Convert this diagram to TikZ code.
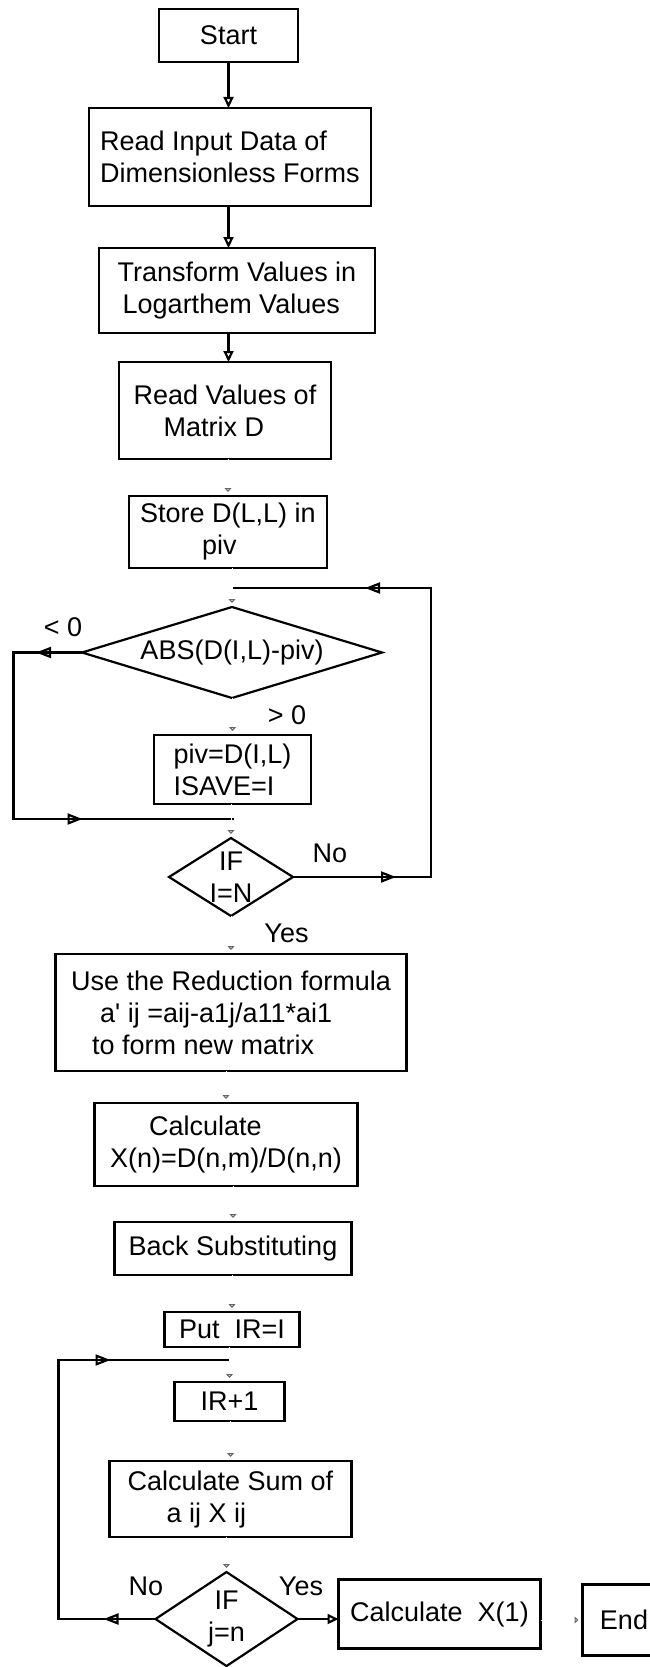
\documentclass[tikz,border=0pt]{standalone}
\usepackage{fontspec}
\setmainfont{Liberation Sans}
\usetikzlibrary{positioning, arrows.meta, shapes.geometric, calc, decorations.markings}
\tikzset{
box/.style={
    draw,
    line width=2.2pt,
    inner sep=4pt,
    outer sep=0pt,
    font=\fontsize{27pt}{32pt}\selectfont
},
dec/.style={
    draw,
    diamond,
    line width=2.2pt,
    inner sep=-14pt,
    outer sep=0pt,
    align=center,
    font=\fontsize{27pt}{32pt}\selectfont
},
lbl/.style={
    font=\fontsize{27pt}{32pt}\selectfont
},
flow/.style={
    line width=2.2pt,
    -{Triangle[open, length=11pt, width=10pt]}
},
faint/.style={
    draw=white,
    line width=1pt,
    shorten >=4pt,
    -{Triangle[open, length=4pt, width=7pt, color=black!60, line width=1.2pt]}
},
loopline/.style 2 args={
    line width=2.2pt,
    decoration={markings,
        mark=at position #1 with {\arrow{Triangle[open, length=15pt, width=11pt]}},
        mark=at position #2 with {\arrow{Triangle[open, length=15pt, width=11pt]}}},
    postaction={decorate}
}
}

\begin{document}
\begin{tikzpicture}[x=1pt, y=-1pt]
\useasboundingbox (0,0) rectangle (649,1667);

% MAIN COLUMN
\node[box, minimum width=139pt, minimum height=53pt] (start) at (228.5,35.5) {Start};

\node[box, align=left, minimum width=282pt, minimum height=98pt,
      below=46pt of start, xshift=1.5pt] (readin) {Read Input Data of\\Dimensionless Forms};

\node[box, align=left, minimum width=276pt, minimum height=85pt,
      below=42pt of readin, xshift=7pt] (transform) {Transform Values in\\\hspace*{5pt}Logarthem Values};

\node[box, align=left, minimum width=212pt, minimum height=97pt,
      below=29pt of transform, xshift=-12pt] (readd) {Read Values of\\\hspace*{30pt}Matrix D};

\node[box, align=left, minimum width=198pt, minimum height=72pt,
      below=37pt of readd, xshift=3pt] (store) {Store D(L,L) in\\\hspace*{62pt}piv};

% PIVOT SEARCH
\node[dec, shape aspect=3.33, minimum width=300pt, minimum height=91pt,
      below=39pt of store, xshift=4pt] (abs) {ABS(D(I,L)-piv)};

\node[box, align=left, minimum width=157pt, minimum height=69pt,
      below=37pt of abs, xshift=0.5pt] (piv) {piv=D(I,L)\\ISAVE=I};

\node[dec, shape aspect=1.59, minimum width=124pt, minimum height=78pt,
      below=34pt of piv, xshift=-1.5pt] (ifn) {IF\\I=N};

% REDUCTION AND BACK SUBSTITUTION
\node[box, align=left, minimum width=351pt, minimum height=117pt,
      below=38pt of ifn] (reduce) {Use the Reduction formula\\\hspace*{29pt}a\textquotesingle{} ij =aij-a1j/a11*ai1\\\hspace*{21pt}to form new matrix};

\node[box, align=left, minimum width=263pt, minimum height=83pt,
      below=32pt of reduce, xshift=-5pt] (calc) {\hspace*{39pt}Calculate\\X(n)=D(n,m)/D(n,n)};

\node[box, minimum width=237pt, minimum height=53pt,
      below=36pt of calc, xshift=7pt] (back) {Back Substituting};

\node[box, minimum width=135pt, minimum height=35pt,
      below=37pt of back, xshift=-1pt] (put) {Put \ IR=I};

\node[box, minimum width=110pt, minimum height=39pt,
      below=35pt of put, xshift=-2.5pt] (ir1) {IR+1};

\node[box, align=left, minimum width=242pt, minimum height=76pt,
      below=40pt of ir1, xshift=1pt] (sum) {Calculate Sum of\\\hspace*{39pt}a ij X ij};

\node[dec, shape aspect=1.52, minimum width=142pt, minimum height=94pt,
      below=35pt of sum, xshift=-4pt] (ifjn) {IF\\j=n};

\node[box, minimum width=202pt, minimum height=69pt,
      right=41pt of ifjn, yshift=5pt] (calcx) {Calculate \ X(1)};

\node[box, minimum width=83pt, minimum height=71pt,
      right=42pt of calcx, yshift=-6pt] (endb) {End};

% LABELS
\node[lbl] (lneg) at (63,627) {< 0};
\node[lbl] (lpos) at (287,715) {> 0};
\node[lbl] (lno1) at (330,853) {No};
\node[lbl] (lyes1) at (286.5,933) {Yes};
\node[lbl] (lno2) at (146,1586) {No};
\node[lbl] (lyes2) at (301,1586) {Yes};

% LOOP CORNERS
\coordinate (j1) at ($(abs.north)+(1pt,19pt)$);
\coordinate (j2) at ($(ifn.north)+(2.5pt,19pt)$);
\coordinate (j3) at ($(ir1.north)+(-1pt,22pt)$);
\coordinate (rc) at ($(j1)+(198pt,0)$);
\coordinate (lc) at ($(j2)+(-220pt,0)$);
\coordinate (bc) at ($(j3)+(-170pt,0)$);

% LOOPS
\draw[loopline={103pt}{-132pt}] (ifn.east) -| (rc) -- (j1);
\draw[loopline={46pt}{-151pt}] (abs.west) -| (lc) -- (j2);
\draw[loopline={52pt}{-118pt}] (ifjn.west) -| (bc) -- (j3);

% ARROWS
\draw[flow] (start) -- (start |- readin.north);
\draw[flow] (readin.south -| start) -- (start |- transform.north);
\draw[flow] (transform.south -| start) -- (start |- readd.north);
\draw[flow] (ifjn.east) -- (calcx.west |- ifjn.east);

\draw[faint] (readd.south -| store.north) -- (store.north);
\draw[faint] (store.south -| abs.north) -- (abs.north);
\draw[faint] (abs.south -| piv.north) -- (piv.north);
\draw[faint] (piv.south -| ifn.north) -- (ifn.north);
\draw[faint] (ifn.south -| reduce.north) -- (reduce.north);
\draw[faint] (reduce.south -| calc.north) -- (calc.north);
\draw[faint] (calc.south -| back.north) -- (back.north);
\draw[faint] (back.south -| put.north) -- (put.north);
\draw[faint] (put.south -| ir1.north) -- (ir1.north);
\draw[faint] (ir1.south -| sum.north) -- (sum.north);
\draw[faint] (sum.south -| ifjn.north) -- (ifjn.north);
\draw[faint] (calcx.east |- endb.west) -- (endb.west);

\end{tikzpicture}
\end{document}
